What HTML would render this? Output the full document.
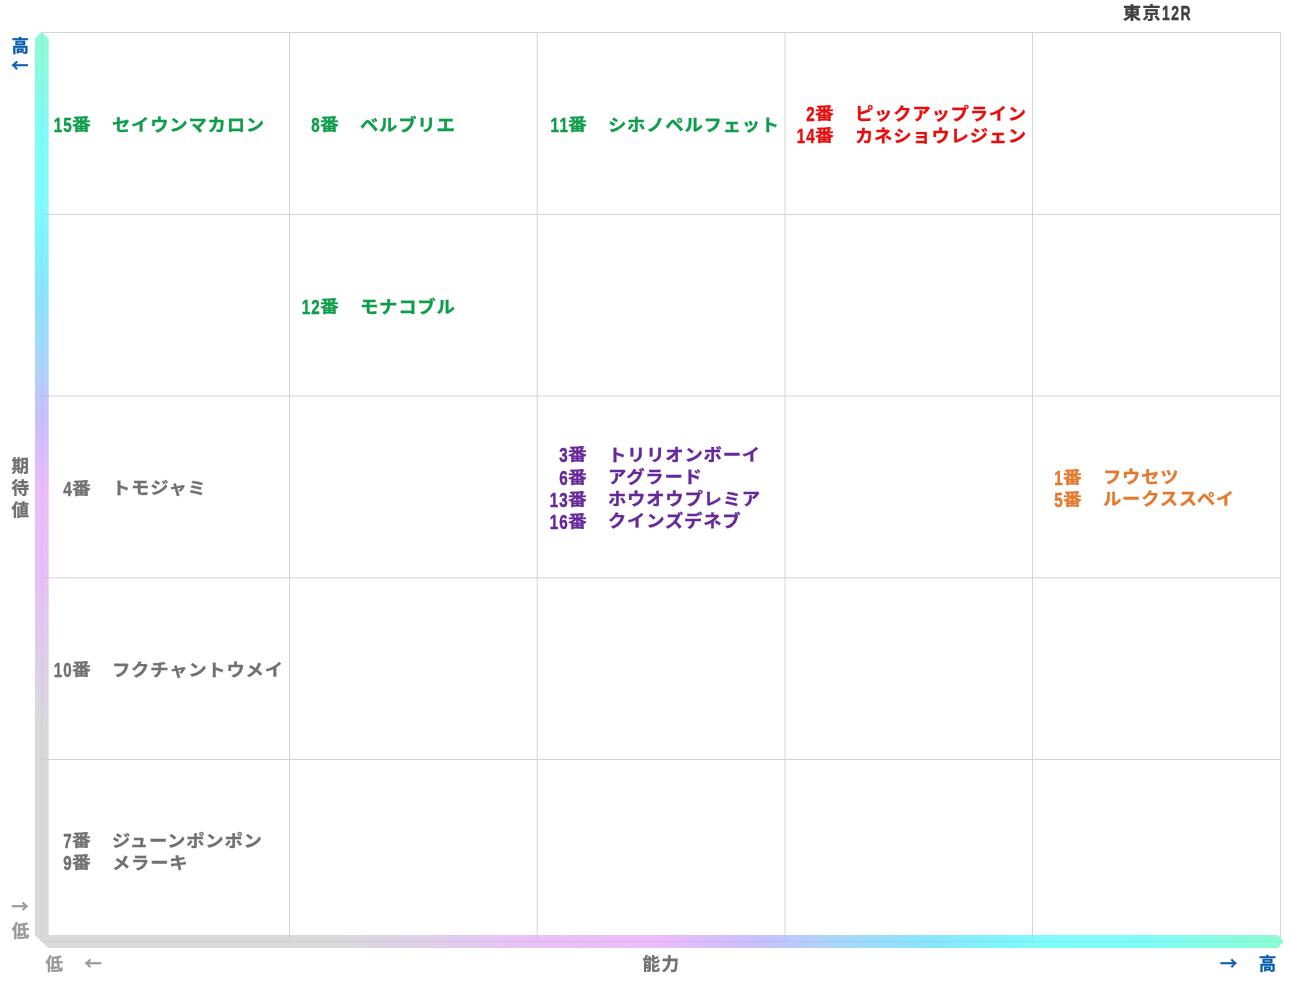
<!DOCTYPE html>
<html lang="ja"><head><meta charset="utf-8"><title>東京12R</title>
<style>
html,body{margin:0;padding:0;background:#fff;}
body{width:1291px;height:983px;position:relative;overflow:hidden;font-family:"Liberation Sans","Noto Sans CJK JP",sans-serif;font-weight:bold;}
.a{position:absolute;white-space:nowrap;line-height:22px;height:22px;}
.n{font-size:20.5px;-webkit-text-stroke:0.45px currentColor;transform:scaleX(.74);transform-origin:100% 50%;text-align:right;width:40px;letter-spacing:1.6px}
.b{font-size:18px;-webkit-text-stroke:0.3px currentColor;transform:scale(1.04,.9);transform-origin:0 50%;}
.k{font-size:17px;-webkit-text-stroke:0.3px currentColor;letter-spacing:0.69px;transform:scale(1.08,1.0);transform-origin:0 50%;margin-top:0.7px}
.ax{font-size:17.5px;-webkit-text-stroke:0.3px currentColor;}
.ar{font-family:"Noto Sans CJK JP","Liberation Sans",sans-serif;}
</style></head><body>
<svg style="position:absolute;left:0;top:0" width="1291" height="983" viewBox="0 0 1291 983">
<defs>
<linearGradient id="gv" gradientUnits="userSpaceOnUse" x1="0" y1="32" x2="0" y2="948">
<stop offset="0" stop-color="#8cfcd2"/><stop offset="0.109" stop-color="#80fcf8"/><stop offset="0.183" stop-color="#80fcfc"/><stop offset="0.227" stop-color="#80f4fc"/><stop offset="0.291" stop-color="#8ce4fc"/><stop offset="0.355" stop-color="#a8d8fc"/><stop offset="0.42" stop-color="#c8c0fc"/><stop offset="0.502" stop-color="#ecbcfc"/><stop offset="0.60" stop-color="#e8c1f6"/><stop offset="0.69" stop-color="#dfcfea"/><stop offset="0.76" stop-color="#d9d9d9"/><stop offset="1" stop-color="#d9d9d9"/>
</linearGradient>
<linearGradient id="gh" gradientUnits="userSpaceOnUse" x1="1284" y1="0" x2="35" y2="0">
<stop offset="0" stop-color="#8cfcd2"/><stop offset="0.109" stop-color="#80fcf8"/><stop offset="0.183" stop-color="#80fcfc"/><stop offset="0.227" stop-color="#80f4fc"/><stop offset="0.291" stop-color="#8ce4fc"/><stop offset="0.355" stop-color="#a8d8fc"/><stop offset="0.42" stop-color="#c8c0fc"/><stop offset="0.502" stop-color="#ecbcfc"/><stop offset="0.60" stop-color="#e8c1f6"/><stop offset="0.69" stop-color="#dfcfea"/><stop offset="0.76" stop-color="#d9d9d9"/><stop offset="1" stop-color="#d9d9d9"/>
</linearGradient>
</defs>
<g stroke="#d4d4d4" stroke-width="1" fill="none"><line x1="289.50" y1="32" x2="289.50" y2="941" /><line x1="537.20" y1="32" x2="537.20" y2="941" /><line x1="785.00" y1="32" x2="785.00" y2="941" /><line x1="1032.50" y1="32" x2="1032.50" y2="941" /><line x1="1280.50" y1="32" x2="1280.50" y2="941" /><line x1="41" y1="32.50" x2="1281" y2="32.50" /><line x1="41" y1="214.50" x2="1281" y2="214.50" /><line x1="41" y1="396.10" x2="1281" y2="396.10" /><line x1="41" y1="577.80" x2="1281" y2="577.80" /><line x1="41" y1="759.50" x2="1281" y2="759.50" /></g>
<polygon points="35,38.5 41.8,32 48.7,38.5 48.7,935 41.8,941.5 35,935" fill="url(#gv)"/>
<polygon points="48.7,935 1277.5,935 1284,941.5 1277.5,948 48.2,948 35,935" fill="url(#gh)"/>
<path d="M41.8 33 V941.4 H1283" stroke="#000" stroke-opacity=".055" stroke-width="1" fill="none"/>
<g stroke="#808080" stroke-opacity=".13" stroke-width="1" fill="none"><line x1="289.50" y1="935" x2="289.50" y2="941.4" /><line x1="537.20" y1="935" x2="537.20" y2="941.4" /><line x1="785.00" y1="935" x2="785.00" y2="941.4" /><line x1="1032.50" y1="935" x2="1032.50" y2="941.4" /><line x1="41.8" y1="214.50" x2="48.7" y2="214.50" /><line x1="41.8" y1="396.10" x2="48.7" y2="396.10" /><line x1="41.8" y1="577.80" x2="48.7" y2="577.80" /><line x1="41.8" y1="759.50" x2="48.7" y2="759.50" /></g>
</svg>
<div class="a" style="left:1122.8px;top:2.2px;font-size:17.5px;color:#404040;letter-spacing:1.4px;-webkit-text-stroke:0.3px currentColor;transform:scale(1.03,.97);transform-origin:0 50%">東京</div><div class="a" style="left:1161.5px;top:2.2px;font-size:20.5px;color:#404040;letter-spacing:2.2px;-webkit-text-stroke:0.5px currentColor;transform:scaleX(.68);transform-origin:0 50%">12R</div>
<div class="a ax" style="left:11.5px;top:34.5px;color:#0d60ae;">高</div>
<div class="a ax ar" style="left:11.0px;top:54.0px;color:#0d60ae;">←</div>
<div class="a ax" style="left:11.6px;top:454.5px;color:#707070;">期</div>
<div class="a ax" style="left:11.6px;top:476.5px;color:#707070;">待</div>
<div class="a ax" style="left:11.6px;top:498.5px;color:#707070;">値</div>
<div class="a ax ar" style="left:11.3px;top:894.7px;color:#999999;">→</div>
<div class="a ax" style="left:11.7px;top:919.8px;color:#999999;">低</div>
<div class="a ax" style="left:45.6px;top:952.8px;color:#999999;">低</div>
<div class="a ax ar" style="left:84.2px;top:952.0px;color:#999999;">←</div>
<div class="a ax" style="left:642.4px;top:952.9px;color:#707070;letter-spacing:1.5px">能力</div>
<div class="a ax ar" style="left:1220.0px;top:952.2px;color:#0d60ae;">→</div>
<div class="a ax" style="left:1258.8px;top:952.9px;color:#0d60ae;">高</div>
<div class="a n" style="left:33.0px;top:114.1px;color:#0e9d4a">15</div><div class="a b" style="left:72.0px;top:114.1px;color:#0e9d4a">番</div><div class="a k" style="left:111.8px;top:114.1px;color:#0e9d4a">セイウンマカロン</div>
<div class="a n" style="left:281.2px;top:114.1px;color:#0e9d4a">8</div><div class="a b" style="left:320.2px;top:114.1px;color:#0e9d4a">番</div><div class="a k" style="left:360.3px;top:114.1px;color:#0e9d4a">ベルブリエ</div>
<div class="a n" style="left:528.9px;top:114.1px;color:#0e9d4a">11</div><div class="a b" style="left:567.9px;top:114.1px;color:#0e9d4a">番</div><div class="a k" style="left:607.7px;top:114.1px;color:#0e9d4a">シホノペルフェット</div>
<div class="a n" style="left:775.9px;top:103.1px;color:#ea0c0c">2</div><div class="a b" style="left:814.9px;top:103.1px;color:#ea0c0c">番</div><div class="a k" style="left:855.0px;top:103.1px;color:#ea0c0c">ピックアップライン</div>
<div class="a n" style="left:775.9px;top:125.2px;color:#ea0c0c">14</div><div class="a b" style="left:814.9px;top:125.2px;color:#ea0c0c">番</div><div class="a k" style="left:855.0px;top:125.2px;color:#ea0c0c">カネショウレジェン</div>
<div class="a n" style="left:281.2px;top:295.9px;color:#0e9d4a">12</div><div class="a b" style="left:320.2px;top:295.9px;color:#0e9d4a">番</div><div class="a k" style="left:360.3px;top:295.9px;color:#0e9d4a">モナコブル</div>
<div class="a n" style="left:33.0px;top:477.6px;color:#707070">4</div><div class="a b" style="left:72.0px;top:477.6px;color:#707070">番</div><div class="a k" style="left:111.8px;top:477.6px;color:#707070">トモジャミ</div>
<div class="a n" style="left:528.9px;top:444.3px;color:#652799">3</div><div class="a b" style="left:567.9px;top:444.3px;color:#652799">番</div><div class="a k" style="left:607.7px;top:444.3px;color:#652799">トリリオンボーイ</div>
<div class="a n" style="left:528.9px;top:466.5px;color:#652799">6</div><div class="a b" style="left:567.9px;top:466.5px;color:#652799">番</div><div class="a k" style="left:607.7px;top:466.5px;color:#652799">アグラード</div>
<div class="a n" style="left:528.9px;top:488.6px;color:#652799">13</div><div class="a b" style="left:567.9px;top:488.6px;color:#652799">番</div><div class="a k" style="left:607.7px;top:488.6px;color:#652799">ホウオウプレミア</div>
<div class="a n" style="left:528.9px;top:510.8px;color:#652799">16</div><div class="a b" style="left:567.9px;top:510.8px;color:#652799">番</div><div class="a k" style="left:607.7px;top:510.8px;color:#652799">クインズデネブ</div>
<div class="a n" style="left:1023.9px;top:466.5px;color:#e4782c">1</div><div class="a b" style="left:1062.9px;top:466.5px;color:#e4782c">番</div><div class="a k" style="left:1102.8px;top:466.5px;color:#e4782c">フウセツ</div>
<div class="a n" style="left:1023.9px;top:488.6px;color:#e4782c">5</div><div class="a b" style="left:1062.9px;top:488.6px;color:#e4782c">番</div><div class="a k" style="left:1102.8px;top:488.6px;color:#e4782c">ルークススペイ</div>
<div class="a n" style="left:33.0px;top:659.3px;color:#707070">10</div><div class="a b" style="left:72.0px;top:659.3px;color:#707070">番</div><div class="a k" style="left:111.8px;top:659.3px;color:#707070">フクチャントウメイ</div>
<div class="a n" style="left:33.0px;top:829.9px;color:#707070">7</div><div class="a b" style="left:72.0px;top:829.9px;color:#707070">番</div><div class="a k" style="left:111.8px;top:829.9px;color:#707070">ジューンポンポン</div>
<div class="a n" style="left:33.0px;top:852.1px;color:#707070">9</div><div class="a b" style="left:72.0px;top:852.1px;color:#707070">番</div><div class="a k" style="left:111.8px;top:852.1px;color:#707070">メラーキ</div>
</body></html>
